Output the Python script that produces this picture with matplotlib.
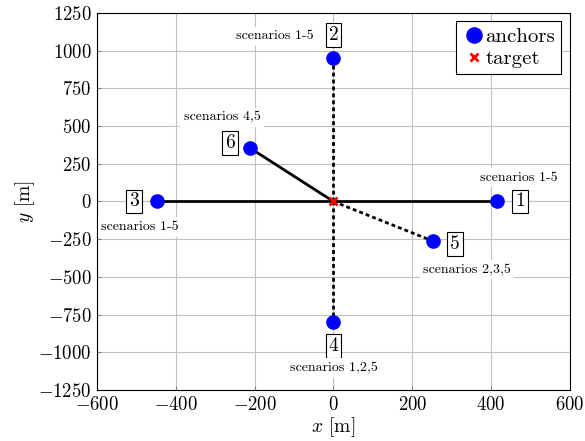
import matplotlib
matplotlib.use("Agg")
import matplotlib.pyplot as plt

plt.rcParams['font.family'] = 'serif'
plt.rcParams['font.serif'] = ['cmr10']
plt.rcParams['mathtext.fontset'] = 'cm'
plt.rcParams['axes.formatter.use_mathtext'] = True

# anchor positions [m]
anchor_x = [415, 0, -448, 0, 252, -212]
anchor_y = [0, 951, 0, -799, -262, 355]
anchor_ids = ['1', '2', '3', '4', '5', '6']
scenario_txt = ['scenarios 1-5', 'scenarios 1-5', 'scenarios 1-5',
                'scenarios 1,2,5', 'scenarios 2,3,5', 'scenarios 4,5']
target_x, target_y = 0, 0

solid_links = [0, 2, 5]
dotted_links = [1, 3, 4]

# label offsets (in data units) for id box and scenario text
id_off = [(59, 0), (0, 153), (-58, 0), (0, -159), (56, -20), (-51, 33)]
sc_off = [(56, 156), (-148, 146), (-43, -169), (0, -305), (87, -192), (-71, 205)]

fig = plt.figure(figsize=(5.85, 4.41), dpi=100)
ax = fig.add_axes([0.166, 0.1156, 0.808, 0.855])

for i in solid_links:
    ax.plot([target_x, anchor_x[i]], [target_y, anchor_y[i]], color='black', lw=2, zorder=2)
for i in dotted_links:
    ax.plot([target_x, anchor_x[i]], [target_y, anchor_y[i]], color='black', lw=2,
            linestyle=(0, (1.4, 1.1)), zorder=2)

ax.plot(anchor_x, anchor_y, 'o', color='blue', markersize=9.5, linestyle='none',
        label='anchors', zorder=4)
ax.plot([target_x], [target_y], 'x', color='red', markersize=5.5, mew=2,
        linestyle='none', label='target', zorder=5)

for i in range(len(anchor_x)):
    ax.text(anchor_x[i] + id_off[i][0], anchor_y[i] + id_off[i][1], anchor_ids[i],
            fontsize=14, ha='center', va='center', zorder=6,
            bbox=dict(boxstyle='square,pad=0.15', fc='white', ec='black', lw=0.8))
    ax.text(anchor_x[i] + sc_off[i][0], anchor_y[i] + sc_off[i][1], scenario_txt[i],
            fontsize=10, ha='center', va='center', zorder=6,
            bbox=dict(boxstyle='square,pad=0.25', fc='white', ec='none'))

ax.set_xlim(-600, 600)
ax.set_ylim(-1250, 1250)
ax.set_xticks(range(-600, 601, 200))
ax.set_yticks(range(-1250, 1251, 250))
ax.grid(True, color='#c0c0c0', lw=0.8)
ax.set_axisbelow(True)
ax.tick_params(labelsize=13.5, direction='in', length=3, pad=4, color='#808080')
ax.set_xlabel(r'$x$ [m]', fontsize=14, labelpad=1)
ax.set_ylabel(r'$y$ [m]', fontsize=14, labelpad=1)

leg = ax.legend(loc='upper right', fontsize=15, handletextpad=0.0, handlelength=1.1,
                borderpad=0.3, labelspacing=0.15, fancybox=False, framealpha=1,
                edgecolor='black', borderaxespad=0.4, markerscale=1.15)
leg.get_frame().set_linewidth(0.8)

fig.savefig('out.png', dpi=100)
